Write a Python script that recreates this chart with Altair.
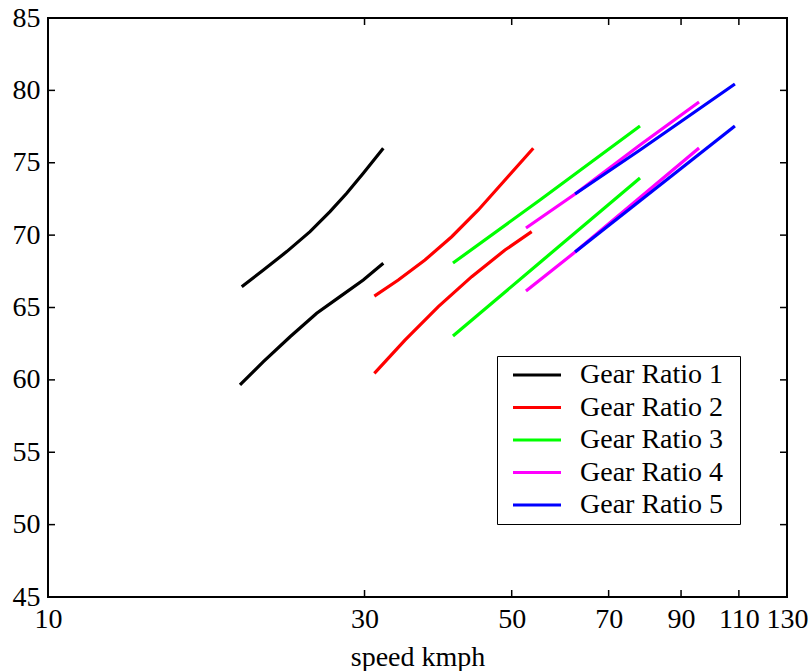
import altair as alt
import pandas as pd

# ---- data ----
gears = ["Gear Ratio 1", "Gear Ratio 2", "Gear Ratio 3", "Gear Ratio 4", "Gear Ratio 5"]
colors = ["#000000", "#ff0000", "#00ff00", "#ff00ff", "#0000ff"]

g1_up_x = [19.59, 21.12, 22.90, 24.83, 26.61, 28.20, 29.87, 32.02]
g1_up_y = [66.44, 67.59, 68.86, 70.24, 71.62, 72.89, 74.27, 76.00]
g1_lo_x = [19.47, 21.12, 23.17, 25.41, 27.55, 29.87, 32.02]
g1_lo_y = [59.65, 61.26, 62.98, 64.60, 65.75, 66.90, 68.05]

g2_up_x = [31.04, 33.73, 37.00, 40.60, 44.53, 48.85, 53.89]
g2_up_y = [65.79, 66.90, 68.28, 69.89, 71.74, 73.81, 76.00]
g2_lo_x = [31.04, 34.52, 38.76, 43.52, 48.85, 53.59]
g2_lo_y = [60.45, 62.75, 65.06, 67.13, 68.97, 70.24]

g3_up_x = [40.78, 55.15, 78.05]
g3_up_y = [68.07, 72.43, 77.54]
g3_lo_x = [40.78, 55.15, 78.05]
g3_lo_y = [63.03, 68.11, 73.95]

g4_up_x = [52.54, 62.30, 78.05, 95.80]
g4_up_y = [70.49, 72.84, 76.23, 79.20]
g4_lo_x = [52.54, 62.30, 95.80]
g4_lo_y = [66.14, 68.83, 76.02]

g5_up_x = [62.30, 78.05, 108.5]
g5_up_y = [72.84, 75.88, 80.44]
g5_lo_x = [62.30, 108.5]
g5_lo_y = [68.83, 77.54]

x_ticks = [10, 30, 50, 70, 90, 110, 130]
y_ticks = [45, 50, 55, 60, 65, 70, 75, 80, 85]

series = [
    ("Gear Ratio 1", "upper", g1_up_x, g1_up_y),
    ("Gear Ratio 1", "lower", g1_lo_x, g1_lo_y),
    ("Gear Ratio 2", "upper", g2_up_x, g2_up_y),
    ("Gear Ratio 2", "lower", g2_lo_x, g2_lo_y),
    ("Gear Ratio 3", "upper", g3_up_x, g3_up_y),
    ("Gear Ratio 3", "lower", g3_lo_x, g3_lo_y),
    ("Gear Ratio 4", "upper", g4_up_x, g4_up_y),
    ("Gear Ratio 4", "lower", g4_lo_x, g4_lo_y),
    ("Gear Ratio 5", "upper", g5_up_x, g5_up_y),
    ("Gear Ratio 5", "lower", g5_lo_x, g5_lo_y),
]
rows = []
for g, c, xs, ys in series:
    for i, (xv, yv) in enumerate(zip(xs, ys)):
        rows.append({"gear": g, "curve": g + " " + c, "order": i, "speed": xv, "value": yv})
df = pd.DataFrame(rows)

FONT = "Liberation Serif"
W, H = 739, 579

xscale = alt.Scale(type="log", domain=[10, 130], nice=False)
yscale = alt.Scale(domain=[45, 85], nice=False, zero=False)

lines = alt.Chart(df).mark_line(strokeWidth=3.2).encode(
    x=alt.X("speed:Q", scale=xscale,
            axis=alt.Axis(values=x_ticks, title="speed kmph", format="d",
                          ticks=False, domain=False, grid=False,
                          labelOverlap=False, labelFlush=False, labelPadding=8,
                          titlePadding=10)),
    y=alt.Y("value:Q", scale=yscale,
            axis=alt.Axis(values=y_ticks, title=None, ticks=False, domain=False,
                          grid=False, labelPadding=8, labelFlush=False)),
    color=alt.Color("gear:N", scale=alt.Scale(domain=gears, range=colors),
                    legend=alt.Legend(orient="none", legendX=449, legendY=338,
                                      title="\u00a0", titleOrient="right",
                                      titlePadding=12, titleFontSize=6,
                                      strokeColor="black",
                                      fillColor="white", padding=5,
                                      symbolType="M-2,0H2", symbolStrokeWidth=3,
                                      symbolSize=576, symbolOffset=21,
                                      labelFont=FONT, labelFontSize=28,
                                      labelColor="black", labelLimit=300,
                                      rowPadding=4.5, labelOffset=29)),
    detail="curve:N",
    order="order:Q",
)

xt = pd.DataFrame({"speed": x_ticks})
yt = pd.DataFrame({"value": y_ticks})

tick_bottom = alt.Chart(xt).mark_rule(color="black", strokeWidth=1.5).encode(
    x="speed:Q", y=alt.value(H), y2=alt.value(H - 7))
tick_top = alt.Chart(xt).mark_rule(color="black", strokeWidth=1.5).encode(
    x="speed:Q", y=alt.value(0), y2=alt.value(7))
tick_left = alt.Chart(yt).mark_rule(color="black", strokeWidth=1.5).encode(
    y="value:Q", x=alt.value(0), x2=alt.value(7))
tick_right = alt.Chart(yt).mark_rule(color="black", strokeWidth=1.5).encode(
    y="value:Q", x=alt.value(W), x2=alt.value(W - 7))

chart = alt.layer(lines, tick_bottom, tick_top, tick_left, tick_right).properties(
    width=W, height=H,
    background="white",
    autosize=alt.AutoSizeParams(type="none"),
    padding={"left": 48, "top": 18, "right": 23, "bottom": 74},
).configure_view(
    stroke="black", strokeWidth=2
).configure_axis(
    labelFont=FONT, labelFontSize=28, labelColor="black",
    titleFont=FONT, titleFontSize=28, titleFontWeight="normal", titleColor="black",
)

chart.save("out.html", embed_options={"renderer": "svg", "actions": False})
